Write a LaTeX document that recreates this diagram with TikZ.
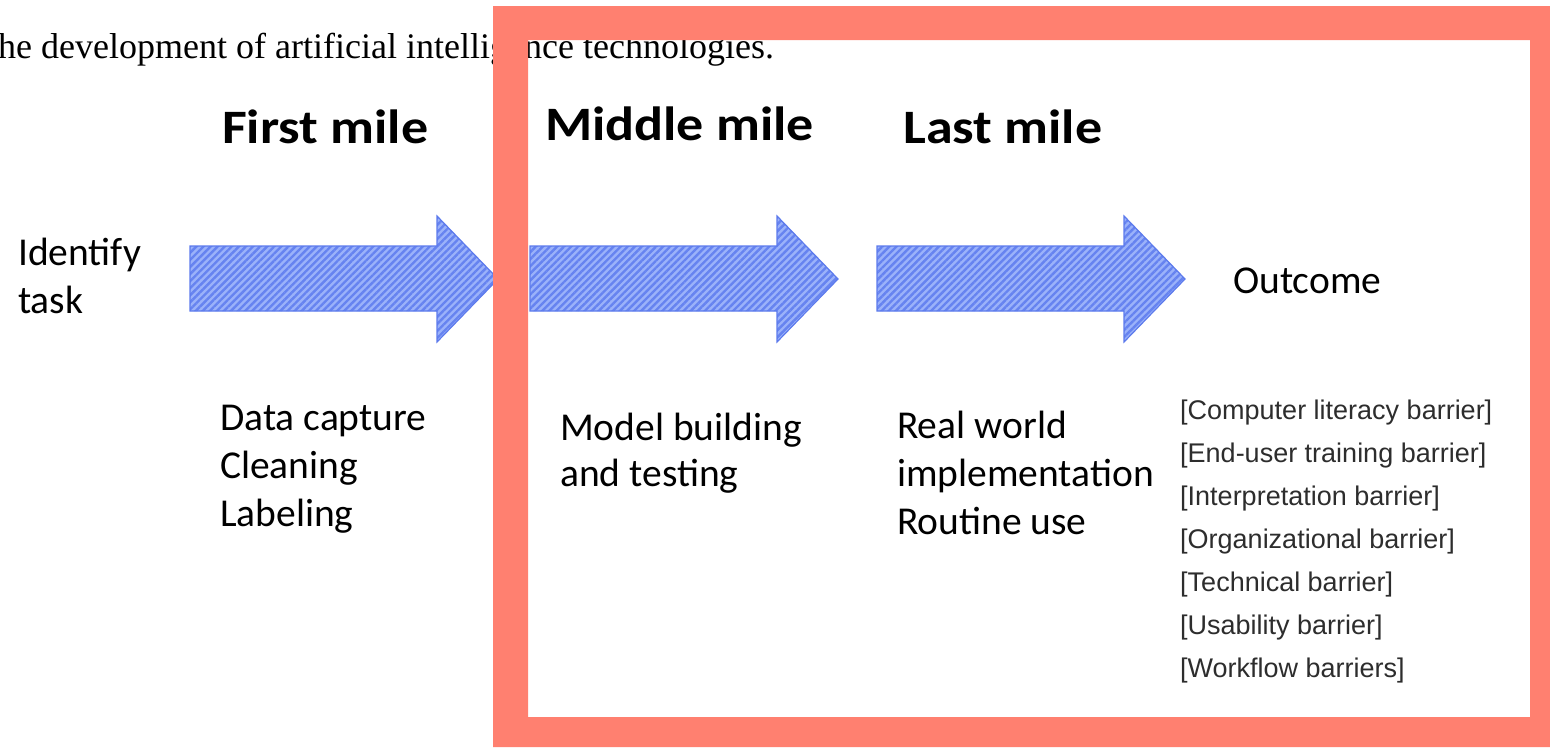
\documentclass[tikz,border=0pt]{standalone}
\usepackage{fontspec}
\setmainfont{Carlito}
\newfontfamily\barfont{Liberation Sans}
\newfontfamily\pagefont{Liberation Serif}
\usetikzlibrary{positioning,patterns.meta}

\definecolor{framered}{RGB}{255,128,112}
\definecolor{arrowfill}{RGB}{155,178,250}
\definecolor{arrowstripe}{RGB}{102,131,240}
\definecolor{arrowedge}{RGB}{92,122,236}
\definecolor{bartext}{RGB}{45,45,45}

\tikzset{
    mile/.style={preaction={fill=arrowfill}, draw=arrowedge, line width=1.2pt,
        pattern={Lines[angle=45, distance=5pt, line width=2.4pt]}, pattern color=arrowstripe},
    head/.style={font=\fontsize{48}{56}\selectfont\bfseries, inner sep=0pt, anchor=base west},
    body/.style={font=\fontsize{39.5}{48}\selectfont, inner sep=0pt, anchor=base west, align=left},
}

\newcommand{\milearrow}[1]{%
    \draw[mile] (#1,246) -- ++(247,0) -- ++(0,-30) -- ++(61,63) -- ++(-61,63) -- ++(0,-31) -- ++(-247,0) -- cycle;}
\newcommand{\wide}[1]{\scalebox{1.125}[1]{#1}}

\begin{document}
\begin{tikzpicture}[x=1pt, y=-1pt]
    \useasboundingbox (0,0) rectangle (1550,747);

    \node [inner sep=0pt, anchor=base west, font=\pagefont\fontsize{36}{40}\selectfont] (page) at (-2,58)
        {he development of artificial intelligence technologies.};

    \node [head] (first) at (222,143) {\wide{First mile}};
    \node [head] (middle) at (545,140) {\wide{Middle mile}};
    \node [head] (last) at (903,143) {\wide{Last mile}};

    \milearrow{190}
    \milearrow{530}
    \milearrow{877}

    % base of a multi-line node is its last line
    \node [body] (task) at (18,313) {Identify\\task};
    \node [body] (outcome) at (1233,293) {Outcome};

    \node [body] (capture) at (220,526) {Data capture\\Cleaning\\Labeling};
    \node [body, font=\fontsize{39.5}{46}\selectfont] (model) at (560,486) {Model building\\and testing};
    \node [body] (real) at (897,534) {Real world\\implementation\\Routine use};

    \node [inner sep=0pt, anchor=base west, align=left, text=bartext,
        font=\barfont\fontsize{27}{43}\selectfont] (barriers) at (1180,677)
        {{[Computer literacy barrier]}\\{[End-user training barrier]}\\{[Interpretation barrier]}\\
         {[Organizational barrier]}\\{[Technical barrier]}\\{[Usability barrier]}\\{[Workflow barriers]}};

    % salmon frame on top
    \fill [framered, even odd rule] (493,6) rectangle (1550,747) (528,40) rectangle (1530,717);
\end{tikzpicture}
\end{document}
